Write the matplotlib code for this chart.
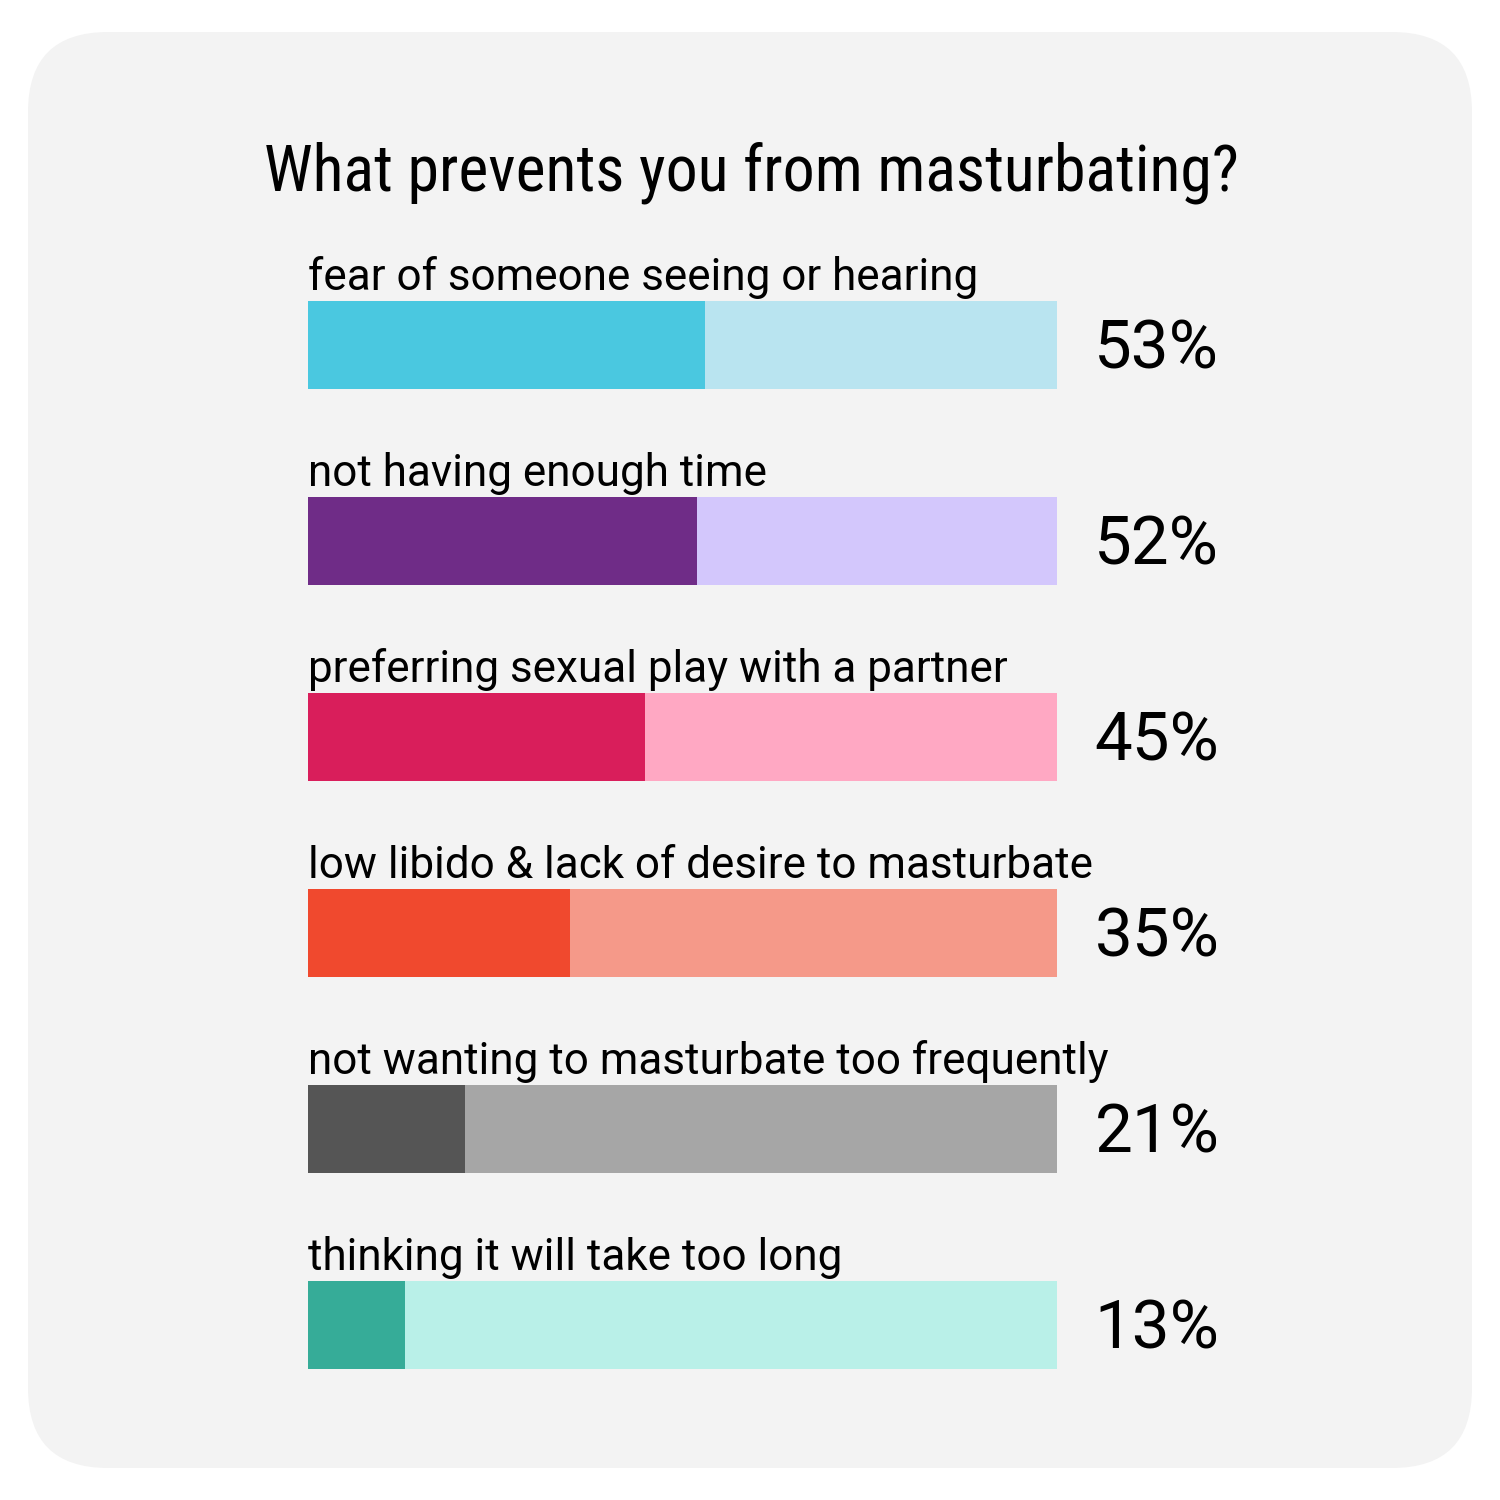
import matplotlib
matplotlib.use("Agg")
import matplotlib.pyplot as plt
from matplotlib import font_manager as fm
from matplotlib.patches import FancyBboxPatch

# datos
labels = [
    "fear of someone seeing or hearing",
    "not having enough time",
    "preferring sexual play with a partner",
    "low libido & lack of desire to masturbate",
    "not wanting to masturbate too frequently",
    "thinking it will take too long",
]
values = [53, 52, 45, 35, 21, 13]
dark_colors = ["#4ac8e0", "#6f2c87", "#d91e5b", "#f0492e", "#555555", "#36ac98"]
light_colors = ["#b9e4f0", "#d3c7fc", "#ffa8c3", "#f59989", "#a6a6a6", "#b9f0e8"]
title = "What prevents you from masturbating?"

# fuente condensada para el titulo, si existe
names = {f.name for f in fm.fontManager.ttflist}
title_font = "Roboto"
title_stretch = "normal"
for cand in ["Roboto Condensed", "Liberation Sans Narrow", "Open Sans Condensed"]:
    if cand in names:
        title_font = cand
        break
else:
    title_font = "DejaVu Sans"
    title_stretch = "condensed"

W = H = 1500
fig = plt.figure(figsize=(15, 15), dpi=100)
fig.patch.set_facecolor("white")

# fondo redondeado
bg = fig.add_axes([0, 0, 1, 1])
bg.set_xlim(0, W)
bg.set_ylim(H, 0)
bg.axis("off")
bg.add_patch(FancyBboxPatch((28, 32), 1444, 1436,
                            boxstyle="round,pad=0,rounding_size=80",
                            fc="#f3f3f3", ec="none"))
bg.text(751, 190, title, ha="center", va="baseline", fontsize=46,
        family=title_font, stretch=title_stretch, color="black")

# barras
bar_h = 0.448
left, right, top, bottom = 308, 1057, 301, 1369
ax = fig.add_axes([left / W, 1 - bottom / H, (right - left) / W, (bottom - top) / H])
ax.set_xlim(0, 100)
ax.set_ylim(len(values) - 1 + bar_h / 2, -bar_h / 2)
ax.axis("off")

ys = list(range(len(values)))
ax.barh(ys, [100] * len(values), height=bar_h, color=light_colors, edgecolor="none")
ax.barh(ys, values, height=bar_h, color=dark_colors, edgecolor="none")

pct_size = 48.4
for y, lab, v in zip(ys, labels, values):
    ax.annotate(lab, (0, y - bar_h / 2), xytext=(0, 8), textcoords="offset points",
                ha="left", va="baseline", fontsize=31.7, family="Roboto", color="black",
                annotation_clip=False)
    ax.annotate(f"{v}%", (105.0, y), xytext=(0, -0.711 * pct_size / 2),
                textcoords="offset points", ha="left", va="baseline",
                fontsize=pct_size, family="Roboto", color="black",
                annotation_clip=False)

fig.savefig("out.png", dpi=100, facecolor="white")
